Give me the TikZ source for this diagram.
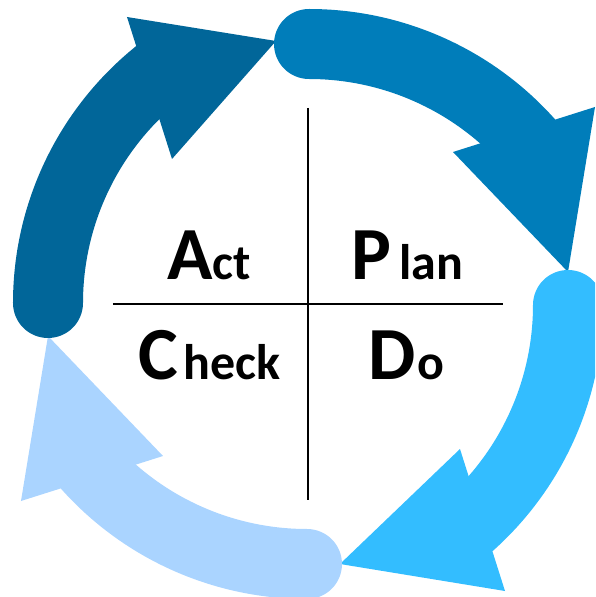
\documentclass[tikz,border=0pt]{standalone}
\usepackage{fontspec}
\setmainfont{Carlito}
\usepackage{tikz}
\usetikzlibrary{positioning}

\definecolor{actblue}{RGB}{1,102,153}
\definecolor{planblue}{RGB}{0,125,186}
\definecolor{doblue}{RGB}{51,189,255}
\definecolor{checkblue}{RGB}{170,212,255}

\tikzset{
	band/.style={line width=70pt, line cap=round},
	word/.style={anchor=base west, inner sep=0pt, font=\bfseries},
}
\newcommand{\pdcaword}[3]{{\fontsize{75}{75}\selectfont #1}\kern#2{\fontsize{50}{50}\selectfont #3}}

\begin{document}
\begin{tikzpicture}[x=1pt,y=1pt]
		\clip (-308,-293) rectangle (287,304);
		% heads
		\begin{scope}[rotate=90]
		\fill[actblue] (145,136) -- (287,181) -- (263,32) -- cycle;
		\end{scope}
		\begin{scope}[rotate=180]
		\fill[checkblue] (145,152) -- (287,197) -- (260,32) -- cycle;
		\end{scope}
		\begin{scope}[rotate=-90]
		\fill[doblue] (145,152) -- (287,197) -- (260,32) -- cycle;
		\end{scope}
		\begin{scope}
		\fill[planblue] (145,152) -- (287,197) -- (260,32) -- cycle;
		\end{scope}
		% bands
		\begin{scope}[rotate=90]
		\draw[band, actblue] (1,260) arc[start angle=90, end angle=38, radius=294.5pt];
		\end{scope}
		\begin{scope}[rotate=180]
		\draw[band, checkblue] (1,260) arc[start angle=90, end angle=40, radius=294.5pt];
		\end{scope}
		\begin{scope}[rotate=-90]
		\draw[band, doblue] (1,260) arc[start angle=90, end angle=40, radius=294.5pt];
		\end{scope}
		\begin{scope}
		\draw[band, planblue] (1,260) arc[start angle=90, end angle=40, radius=294.5pt];
		\end{scope}
		%
		\coordinate (top) at (0,196);
		\coordinate (bottom) at (0,-196);
		\coordinate (left) at (-195,0);
		\coordinate (right) at (195,0);
		\draw[line width=1.2pt] (top) -- (bottom);
		\draw[line width=1.2pt] (left) -- (right);
		%
		\node[word] (act) at (-141,24) {\pdcaword{A}{0pt}{ct}};
		\node[word] (plan) at (43,24) {\pdcaword{P}{8pt}{lan}};
		\node[word] (check) at (-170,-75) {\pdcaword{C}{6pt}{heck}};
		\node[word] (do) at (60,-75) {\pdcaword{D}{2pt}{o}};
\end{tikzpicture}
\end{document}
